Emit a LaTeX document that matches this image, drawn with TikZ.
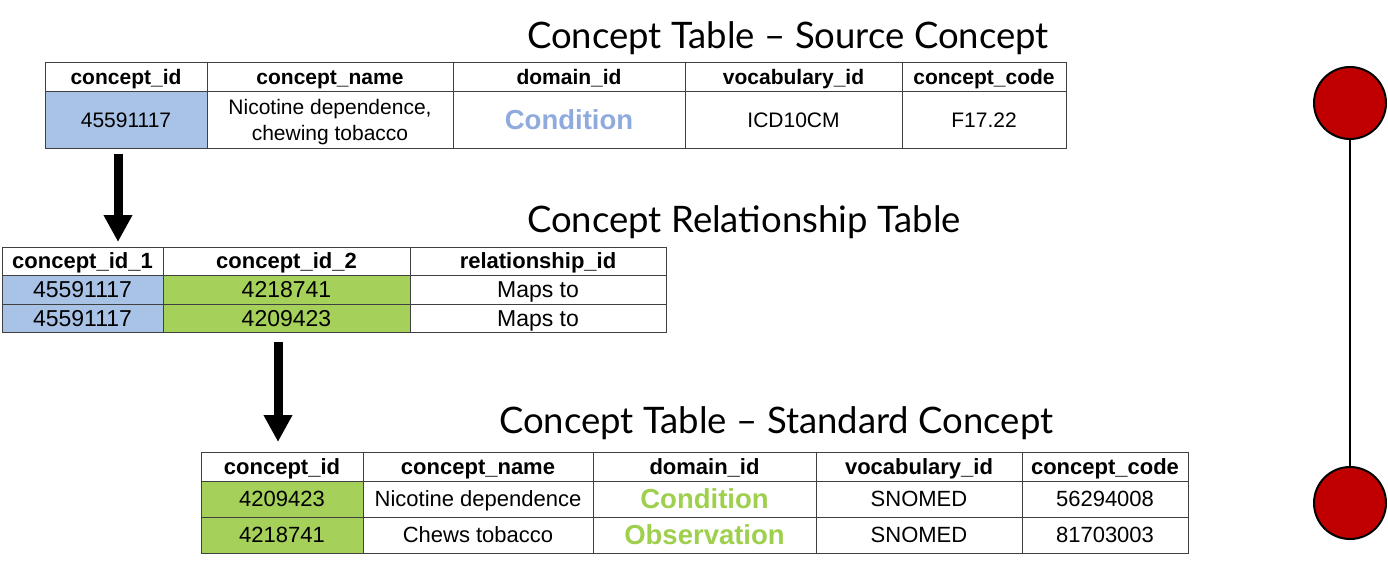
\documentclass[tikz,border=0pt]{standalone}
\usepackage{fontspec}
\setmainfont{Liberation Sans}
\newfontfamily\titlefont{Lato}
\usetikzlibrary{arrows.meta}
\definecolor{gridc}{HTML}{404040}
\definecolor{cblue}{HTML}{A9C3E6}
\definecolor{cgreen}{HTML}{A5D15A}
\definecolor{tblue}{HTML}{8FAADC}
\definecolor{tgreen}{HTML}{9ED04E}
\definecolor{cred}{HTML}{C00000}
\tikzset{
  cell/.style={draw=gridc, line width=1pt, inner sep=0pt, align=center},
  capc/.style={text height=#1, text depth=0pt},
  ta/.style={cell, capc=15.1pt, font=\fontsize{21}{23.5}\selectfont},
  tah/.style={cell, capc=15.1pt, font=\fontsize{21}{23.5}\selectfont\bfseries},
  tb/.style={cell, capc=16.5pt, font=\fontsize{23}{25}\selectfont},
  tbh/.style={cell, capc=15.8pt, font=\fontsize{22}{25}\selectfont\bfseries},
  tc/.style={cell, capc=15.8pt, font=\fontsize{22}{25}\selectfont},
  tch/.style={cell, capc=15.8pt, font=\fontsize{22}{25}\selectfont\bfseries},
  dom/.style={capc=19.8pt, font=\fontsize{27.5}{30}\selectfont\bfseries},
  ttl/.style={anchor=base west, inner sep=0pt, font=\titlefont\fontsize{36.5}{40}\selectfont},
  bigarrow/.style={line width=9pt, -{Triangle[width=27pt,length=27pt]}},
  dot/.style={circle, draw=black, line width=2pt, fill=cred, minimum size=72pt, inner sep=0pt}
}
\begin{document}
\begin{tikzpicture}[x=1pt,y=-1pt]
\useasboundingbox (0,0) rectangle (1388,566);
% Titles
\node[ttl] (t1) at (527,48) {Concept Table – Source Concept};
\node[ttl] (t2) at (527,232) {Concept Relationship Table};
\node[ttl] (t3) at (499,433) {Concept Table – Standard Concept};
% Table 1
\node[tah, minimum width=162pt, minimum height=29pt] (a11) at (126,76.5) {concept\_id};
\node[tah, minimum width=246pt, minimum height=29pt] (a12) at (330,76.5) {concept\_name};
\node[tah, minimum width=232pt, minimum height=29pt] (a13) at (569,76.5) {domain\_id};
\node[tah, minimum width=217pt, minimum height=29pt] (a14) at (793.5,76.5) {vocabulary\_id};
\node[tah, minimum width=164pt, minimum height=29pt] (a15) at (984,76.5) {concept\_code};
\node[ta, fill=cblue, minimum width=162pt, minimum height=57pt] (a21) at (126,119.5) {45591117};
\node[draw=gridc, line width=1pt, minimum width=246pt, minimum height=57pt, inner sep=0pt] (a22) at (330,119.5) {};
\node[align=center, inner sep=0pt, yshift=-2.5pt, font=\fontsize{21}{26}\selectfont] (a22t) at (a22.center) {Nicotine dependence,\\chewing tobacco};
\node[ta, dom, text=tblue, minimum width=232pt, minimum height=57pt] (a23) at (569,119.5) {Condition};
\node[ta, minimum width=217pt, minimum height=57pt] (a24) at (793.5,119.5) {ICD10CM};
\node[ta, minimum width=164pt, minimum height=57pt] (a25) at (984,119.5) {F17.22};
% Table 2
\node[tbh, minimum width=161pt, minimum height=28pt] (b11) at (82.5,261) {concept\_id\_1};
\node[tbh, minimum width=247pt, minimum height=28pt] (b12) at (286.5,261) {concept\_id\_2};
\node[tbh, minimum width=256pt, minimum height=28pt] (b13) at (538,261) {relationship\_id};
\node[tb, fill=cblue, minimum width=161pt, minimum height=29pt] (b21) at (82.5,289.5) {45591117};
\node[tb, fill=cgreen, minimum width=247pt, minimum height=29pt] (b22) at (286.5,289.5) {4218741};
\node[tb, minimum width=256pt, minimum height=29pt] (b23) at (538,289.5) {Maps to};
\node[tb, fill=cblue, minimum width=161pt, minimum height=28pt] (b31) at (82.5,318) {45591117};
\node[tb, fill=cgreen, minimum width=247pt, minimum height=28pt] (b32) at (286.5,318) {4209423};
\node[tb, minimum width=256pt, minimum height=28pt] (b33) at (538,318) {Maps to};
% Table 3
\node[tch, minimum width=162pt, minimum height=29pt] (c11) at (282,466.5) {concept\_id};
\node[tch, minimum width=230pt, minimum height=29pt] (c12) at (478,466.5) {concept\_name};
\node[tch, minimum width=223pt, minimum height=29pt] (c13) at (704.5,466.5) {domain\_id};
\node[tch, minimum width=206pt, minimum height=29pt] (c14) at (919,466.5) {vocabulary\_id};
\node[tch, minimum width=166pt, minimum height=29pt] (c15) at (1105,466.5) {concept\_code};
\node[tc, fill=cgreen, minimum width=162pt, minimum height=36pt] (c21) at (282,499) {4209423};
\node[tc, minimum width=230pt, minimum height=36pt] (c22) at (478,499) {Nicotine dependence};
\node[tc, dom, text=tgreen, minimum width=223pt, minimum height=36pt] (c23) at (704.5,499) {Condition};
\node[tc, minimum width=206pt, minimum height=36pt] (c24) at (919,499) {SNOMED};
\node[tc, minimum width=166pt, minimum height=36pt] (c25) at (1105,499) {56294008};
\node[tc, fill=cgreen, minimum width=162pt, minimum height=36pt] (c31) at (282,535) {4218741};
\node[tc, minimum width=230pt, minimum height=36pt] (c32) at (478,535) {Chews tobacco};
\node[tc, dom, text=tgreen, minimum width=223pt, minimum height=36pt] (c33) at (704.5,535) {Observation};
\node[tc, minimum width=206pt, minimum height=36pt] (c34) at (919,535) {SNOMED};
\node[tc, minimum width=166pt, minimum height=36pt] (c35) at (1105,535) {81703003};
% Arrows
\coordinate (p1s) at (118,154);
\coordinate (p1e) at (118,242);
\coordinate (p2s) at (278,342);
\coordinate (p2e) at (278,442);
\draw[bigarrow] (p1s) -- (p1e);
\draw[bigarrow] (p2s) -- (p2e);
% Timeline
\node[dot] (d1) at (1350,103) {};
\node[dot] (d2) at (1350,503) {};
\draw[line width=1.5pt] (d1) -- (d2);
\end{tikzpicture}
\end{document}
